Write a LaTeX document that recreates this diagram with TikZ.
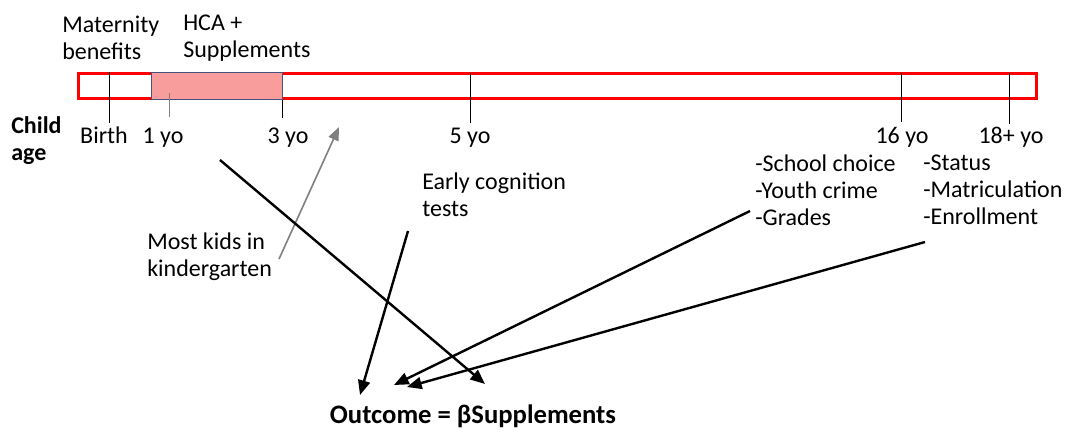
\documentclass[tikz,border=0pt]{standalone}
\usepackage{fontspec}
\setmainfont{Carlito}
\usepackage{tikz}
\usetikzlibrary{arrows.meta}
\definecolor{bar-red}{RGB}{255,0,0}
\definecolor{hca-pink}{RGB}{248,156,156}
\definecolor{hca-blue}{RGB}{68,84,130}
\tikzset{
    age-bar/.style = {draw=bar-red, line width=2.2pt},
    hca-box/.style = {draw=hca-blue, fill=hca-pink, line width=0.6pt},
    age-tick/.style = {draw=black, line width=0.6pt},
    age-label/.style = {anchor=base, inner sep=0pt},
    note-text/.style = {anchor=west, align=left, inner sep=0pt},
    effect-arrow/.style = {draw=black, line width=1.8pt, -{Triangle[length=11pt,width=9pt]}},
    kid-arrow/.style = {draw=gray, line width=1.2pt, -{Triangle[length=10pt,width=8pt]}},
}

\begin{document}
\begin{tikzpicture}[x=0.75pt, y=-0.75pt, font=\fontsize{18}{20.3}\selectfont]
\useasboundingbox (0,0) rectangle (1073,437);

% age bar
\draw[age-bar] (78.5,73.5) rectangle (1036.5,98.5);
\draw[hca-box] (151,72.5) rectangle (282,99.5);

% ticks
\draw[age-tick] (109,72) -- (109,123);
\draw[age-tick, draw=gray] (169,93) -- (169,117);
\draw[age-tick] (282,100) -- (282,118);
\draw[age-tick] (470,73) -- (470,123);
\draw[age-tick] (901,73) -- (901,122);
\draw[age-tick] (1009,73) -- (1009,124);

% age labels
\node[note-text, font=\fontsize{18}{20.3}\selectfont\bfseries] (child-age) at (11,141) {Child\\age};
\node[age-label] (birth) at (104,143) {Birth};
\node[age-label] (one-yo) at (163,143) {1 yo};
\node[age-label] (three-yo) at (288,143) {3 yo};
\node[age-label] (five-yo) at (470,143) {5 yo};
\node[age-label] (sixteen-yo) at (902,143) {16 yo};
\node[age-label] (eighteen-yo) at (1011,143) {18+ yo};

% policies above the bar
\node[note-text] (maternity) at (62,38) {Maternity\\benefits};
\node[note-text] (hca) at (183,38) {HCA +\\Supplements};

% outcomes
\node[note-text] (cognition) at (422,195) {Early cognition\\tests};
\node[note-text] (school) at (755,190) {-School choice\\-Youth crime\\-Grades};
\node[note-text] (adult) at (923,190) {-Status\\-Matriculation\\-Enrollment};
\node[note-text] (kindergarten) at (147,257) {Most kids in\\kindergarten};
\node[font=\fontsize{20}{24}\selectfont\bfseries] (outcome) at (473,416) {Outcome = βSupplements};

% arrow ends
\coordinate (supp-start) at (220,160);
\coordinate (supp-end) at (485,384);
\coordinate (cog-start) at (408,231);
\coordinate (cog-end) at (360,395);
\coordinate (school-start) at (750,211);
\coordinate (school-end) at (394,385);
\coordinate (adult-start) at (925,242);
\coordinate (adult-end) at (407,387);
\coordinate (kid-start) at (279,259);
\coordinate (kid-end) at (339,127);

\draw[kid-arrow] (kid-start) -- (kid-end);
\draw[effect-arrow] (supp-start) -- (supp-end);
\draw[effect-arrow] (cog-start) -- (cog-end);
\draw[effect-arrow] (school-start) -- (school-end);
\draw[effect-arrow] (adult-start) -- (adult-end);
\end{tikzpicture}
\end{document}
